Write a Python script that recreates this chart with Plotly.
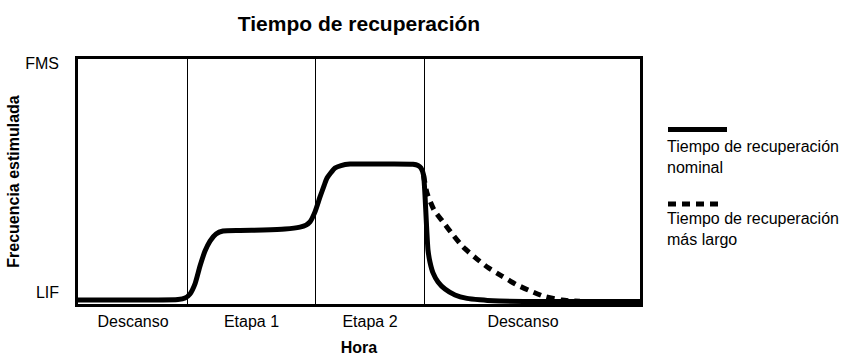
import plotly.graph_objects as go

# ---- data (time in arbitrary units 0-100, stimulated rate 0-100 between axes) ----
time_nominal = [0, 12.81, 17.79, 19.04, 19.93, 20.82, 21.71, 22.60, 23.49, 24.56, 25.80,
                28.83, 32.92, 36.83, 39.50, 40.57, 41.28, 42.17, 43.06, 43.77, 44.31,
                45.73, 46.80, 48.40, 54.63, 59.61, 60.50, 61.03, 61.48, 61.74, 62.01,
                62.28, 62.63, 63.17, 64.06, 65.30, 67.08, 69.22, 71.53, 73.84, 80.43, 100]
freq_nominal = [1.6, 1.6, 1.8, 2.4, 4.1, 8.2, 15.5, 21.6, 25.7, 28.6, 29.8,
                30.0, 30.2, 30.6, 31.4, 32.2, 33.5, 37.6, 43.7, 48.2, 51.4,
                55.5, 56.5, 57.1, 57.1, 57.0, 56.5, 55.5, 52.7, 44.5, 32.2,
                22.0, 17.1, 12.7, 9.0, 6.1, 3.7, 2.3, 1.7, 1.3, 1.06, 1.0]

time_long = [61.48, 62.10, 63.35, 64.95, 66.73, 68.51, 70.64, 72.95, 75.44, 77.94,
             80.43, 83.10, 86.12, 89.32]
freq_long = [52.65, 45.3, 38.4, 33.5, 28.2, 23.3, 19.0, 14.9, 11.4, 8.0,
             5.4, 3.0, 1.6, 1.1]

stage_bounds = [19.57, 42.17, 61.74]
stage_label_pos = [9.79, 30.87, 51.96, 79.18]
stage_labels = ["Descanso", "Etapa 1", "Etapa 2", "Descanso"]

rate_tick_pos = [4.9, 98.4]
rate_tick_labels = ["LIF", "FMS"]

series_names = ["Tiempo de recuperación nominal", "Tiempo de recuperación más largo"]
legend_texts = ["Tiempo de recuperación<br>nominal", "Tiempo de recuperación<br>más largo"]

FONT = "Liberation Sans, Arial, sans-serif"

fig = go.Figure()
fig.add_trace(go.Scatter(
    x=time_long, y=freq_long, mode="lines", name=series_names[1],
    line=dict(color="black", width=5, dash="8px,6px", shape="spline", smoothing=0.6),
    showlegend=False, hoverinfo="skip"))
fig.add_trace(go.Scatter(
    x=time_nominal, y=freq_nominal, mode="lines", name=series_names[0],
    line=dict(color="black", width=5, shape="spline", smoothing=0.5),
    showlegend=False, hoverinfo="skip"))

W, H = 841, 356
L, R, T, B = 78, 640, 59, 304

def px_x(px):
    return (px - L) / (R - L)

def px_y(py):
    return (B - py) / (B - T)

# legend samples and texts (symbol above text)
fig.add_shape(type="line", xref="paper", yref="paper",
              x0=px_x(668), x1=px_x(727), y0=px_y(129.5), y1=px_y(129.5),
              line=dict(color="black", width=5))
fig.add_shape(type="line", xref="paper", yref="paper",
              x0=px_x(668), x1=px_x(724), y0=px_y(204), y1=px_y(204),
              line=dict(color="black", width=5, dash="8px,6px"))
fig.add_annotation(xref="paper", yref="paper", x=px_x(665), y=px_y(157),
                   xanchor="left", yanchor="middle", align="left", showarrow=False,
                   text=legend_texts[0], font=dict(family=FONT, size=16, color="black"))
fig.add_annotation(xref="paper", yref="paper", x=px_x(665), y=px_y(229),
                   xanchor="left", yanchor="middle", align="left", showarrow=False,
                   text=legend_texts[1], font=dict(family=FONT, size=16, color="black"))

fig.update_layout(
    width=W, height=H,
    margin=dict(l=L, r=W - R, t=T, b=H - B, pad=0, autoexpand=False),
    paper_bgcolor="white", plot_bgcolor="white",
    font=dict(family=FONT, size=16, color="black"),
    title=dict(text="<b>Tiempo de recuperación</b>", x=(L + R) / 2 / W, xanchor="center",
               y=1 - 24 / H, yanchor="middle", yref="container",
               font=dict(family=FONT, size=21, color="black")),
    showlegend=False,
    xaxis=dict(range=[0, 100], showgrid=False, zeroline=False, automargin=False,
               showline=True, mirror=True, linecolor="black", linewidth=2.5,
               tickmode="array", tickvals=stage_label_pos, ticktext=stage_labels,
               ticks="outside", ticklen=1, tickcolor="rgba(0,0,0,0)",
               tickfont=dict(family=FONT, size=16),
               minor=dict(tickmode="array", tickvals=stage_bounds, showgrid=True,
                          gridcolor="black", gridwidth=1, ticks=""),
               title=dict(text="<b>Hora</b>", font=dict(family=FONT, size=16), standoff=16),
               fixedrange=True),
    yaxis=dict(range=[0, 100], showgrid=False, zeroline=False, automargin=False,
               showline=True, mirror=True, linecolor="black", linewidth=2.5,
               tickmode="array", tickvals=rate_tick_pos, ticktext=rate_tick_labels,
               ticks="outside", ticklen=13, tickcolor="rgba(0,0,0,0)",
               tickfont=dict(family=FONT, size=16),
               title=dict(text="<b>Frecuencia estimulada</b>", font=dict(family=FONT, size=16),
                          standoff=2),
               fixedrange=True),
)

fig.write_html("out.html", config={"displayModeBar": False},
               post_script="document.body.style.margin='0';")
